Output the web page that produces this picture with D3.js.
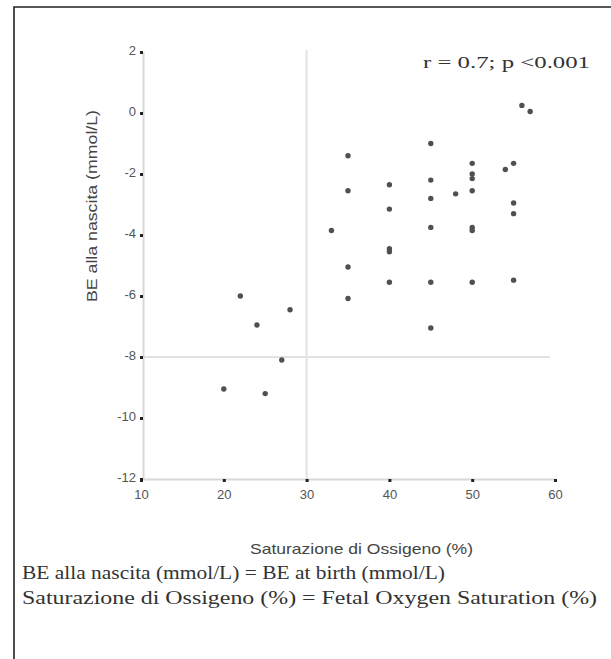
<!DOCTYPE html>
<html>
<head>
<meta charset="utf-8">
<script src="https://cdn.jsdelivr.net/npm/d3@7"></script>
<style>
  body { margin: 0; background: #fff; }
  svg { display: block; }
</style>
</head>
<body>
<svg></svg>
<script>
let width = 611
let height = 659

// saturation (%) and BE at birth (mmol/L), one entry per patient
let saturation = [20, 22, 24, 25, 27, 28, 33, 35, 35, 35, 35, 40, 40, 40, 40, 40, 45, 45, 45, 45, 45, 45, 48, 50, 50, 50, 50, 50, 50, 50, 54, 55, 55, 55, 55, 56, 57]
let beBirth = [-9.05, -6, -6.95, -9.2, -8.1, -6.45, -3.85, -1.4, -2.55, -5.05, -6.08, -2.35, -3.15, -4.45, -4.55, -5.55, -1, -2.2, -2.8, -3.75, -5.55, -7.05, -2.65, -1.65, -2.0, -2.15, -2.55, -3.75, -3.85, -5.55, -1.85, -1.65, -2.95, -3.3, -5.48, 0.25, 0.05]

let xTicks = [10, 20, 30, 40, 50, 60]
let yTicks = [2, 0, -2, -4, -6, -8, -10, -12]
let refSaturation = 30
let refBE = -8

let xLabel = 'Saturazione di Ossigeno (%)'
let yLabel = 'BE alla nascita (mmol/L)'
let statText = 'r = 0.7; p <0.001'
let captions = ['BE alla nascita (mmol/L) = BE at birth (mmol/L)',
                'Saturazione di Ossigeno (%) = Fetal Oxygen Saturation (%)']
let captionWidths = [423, 575]

let svg = d3.select('svg')
    .attr('width', width)
    .attr('height', height)

let xScale = d3.scaleLinear()
    .domain([10, 60])
    .range([141, 555])

let yScale = d3.scaleLinear()
    .domain([-12, 2])
    .range([479, 52])

// frame (top and left edges of the original figure box)
svg.append('path')
    .attr('d', 'M14,659 L14,7 L611,7')
    .attr('fill', 'none')
    .attr('stroke', '#222')
    .attr('stroke-width', 1.6)

// reference lines
svg.append('line')
    .attr('x1', xScale(refSaturation)).attr('x2', xScale(refSaturation))
    .attr('y1', 50).attr('y2', yScale(-12))
    .attr('stroke', '#e2e2e2')
    .attr('stroke-width', 2)

svg.append('line')
    .attr('x1', 143).attr('x2', 550)
    .attr('y1', yScale(refBE)).attr('y2', yScale(refBE))
    .attr('stroke', '#e2e2e2')
    .attr('stroke-width', 2)

// axes
let xAxis = d3.axisBottom(xScale)
    .tickValues(xTicks)
    .tickSize(3)
    .tickSizeOuter(0)
    .tickPadding(8)
    .tickFormat((d) => String(d))

let yAxis = d3.axisLeft(yScale)
    .tickValues(yTicks)
    .tickSize(3)
    .tickSizeOuter(0)
    .tickPadding(4)
    .tickFormat((d) => String(d))   // plain hyphen, not unicode minus

let gx = svg.append('g')
    .attr('transform', 'translate(0, ' + yScale(-12) + ')')
    .call(xAxis)

let gy = svg.append('g')
    .attr('transform', 'translate(143, 0)')
    .call(yAxis)

svg.selectAll('.domain')
    .attr('stroke', '#d8d8d8')
    .attr('stroke-width', 2)

svg.selectAll('.tick line')
    .attr('stroke', '#222')
    .attr('stroke-width', 3)

svg.selectAll('.tick text')
    .attr('fill', '#555')
    .style('font-family', '"Liberation Sans", Arial, sans-serif')
    .style('font-size', '13px')

gy.selectAll('.tick text').attr('dy', '0.2em')

// points
svg.selectAll('circle.pt')
    .data(saturation)
    .enter()
    .append('circle')
    .attr('class', 'pt')
    .attr('cx', (d) => xScale(d))
    .attr('cy', (d, i) => yScale(beBirth[i]))
    .attr('r', 2.7)
    .attr('fill', '#505050')

// labels
svg.append('text')
    .attr('x', 250)
    .attr('y', 554)
    .attr('fill', '#444')
    .attr('textLength', 223)
    .attr('lengthAdjust', 'spacingAndGlyphs')
    .style('font-family', '"Liberation Sans", Arial, sans-serif')
    .style('font-size', '15px')
    .text(xLabel)

svg.append('text')
    .attr('transform', 'translate(97, 302) rotate(-90)')
    .attr('fill', '#444')
    .attr('textLength', 192)
    .attr('lengthAdjust', 'spacingAndGlyphs')
    .style('font-family', '"Liberation Sans", Arial, sans-serif')
    .style('font-size', '15px')
    .text(yLabel)

svg.append('text')
    .attr('x', 423)
    .attr('y', 68)
    .attr('fill', '#333')
    .attr('textLength', 167)
    .attr('lengthAdjust', 'spacingAndGlyphs')
    .style('font-family', '"Liberation Serif", "Times New Roman", serif')
    .style('font-size', '17px')
    .text(statText)

svg.selectAll('text.caption')
    .data(captions)
    .enter()
    .append('text')
    .attr('class', 'caption')
    .attr('x', 22)
    .attr('y', (d, i) => 579 + i * 25)
    .attr('fill', '#333')
    .attr('textLength', (d, i) => captionWidths[i])
    .attr('lengthAdjust', 'spacingAndGlyphs')
    .style('font-family', '"Liberation Serif", "Times New Roman", serif')
    .style('font-size', '18px')
    .text((d) => d)
</script>
</body>
</html>
